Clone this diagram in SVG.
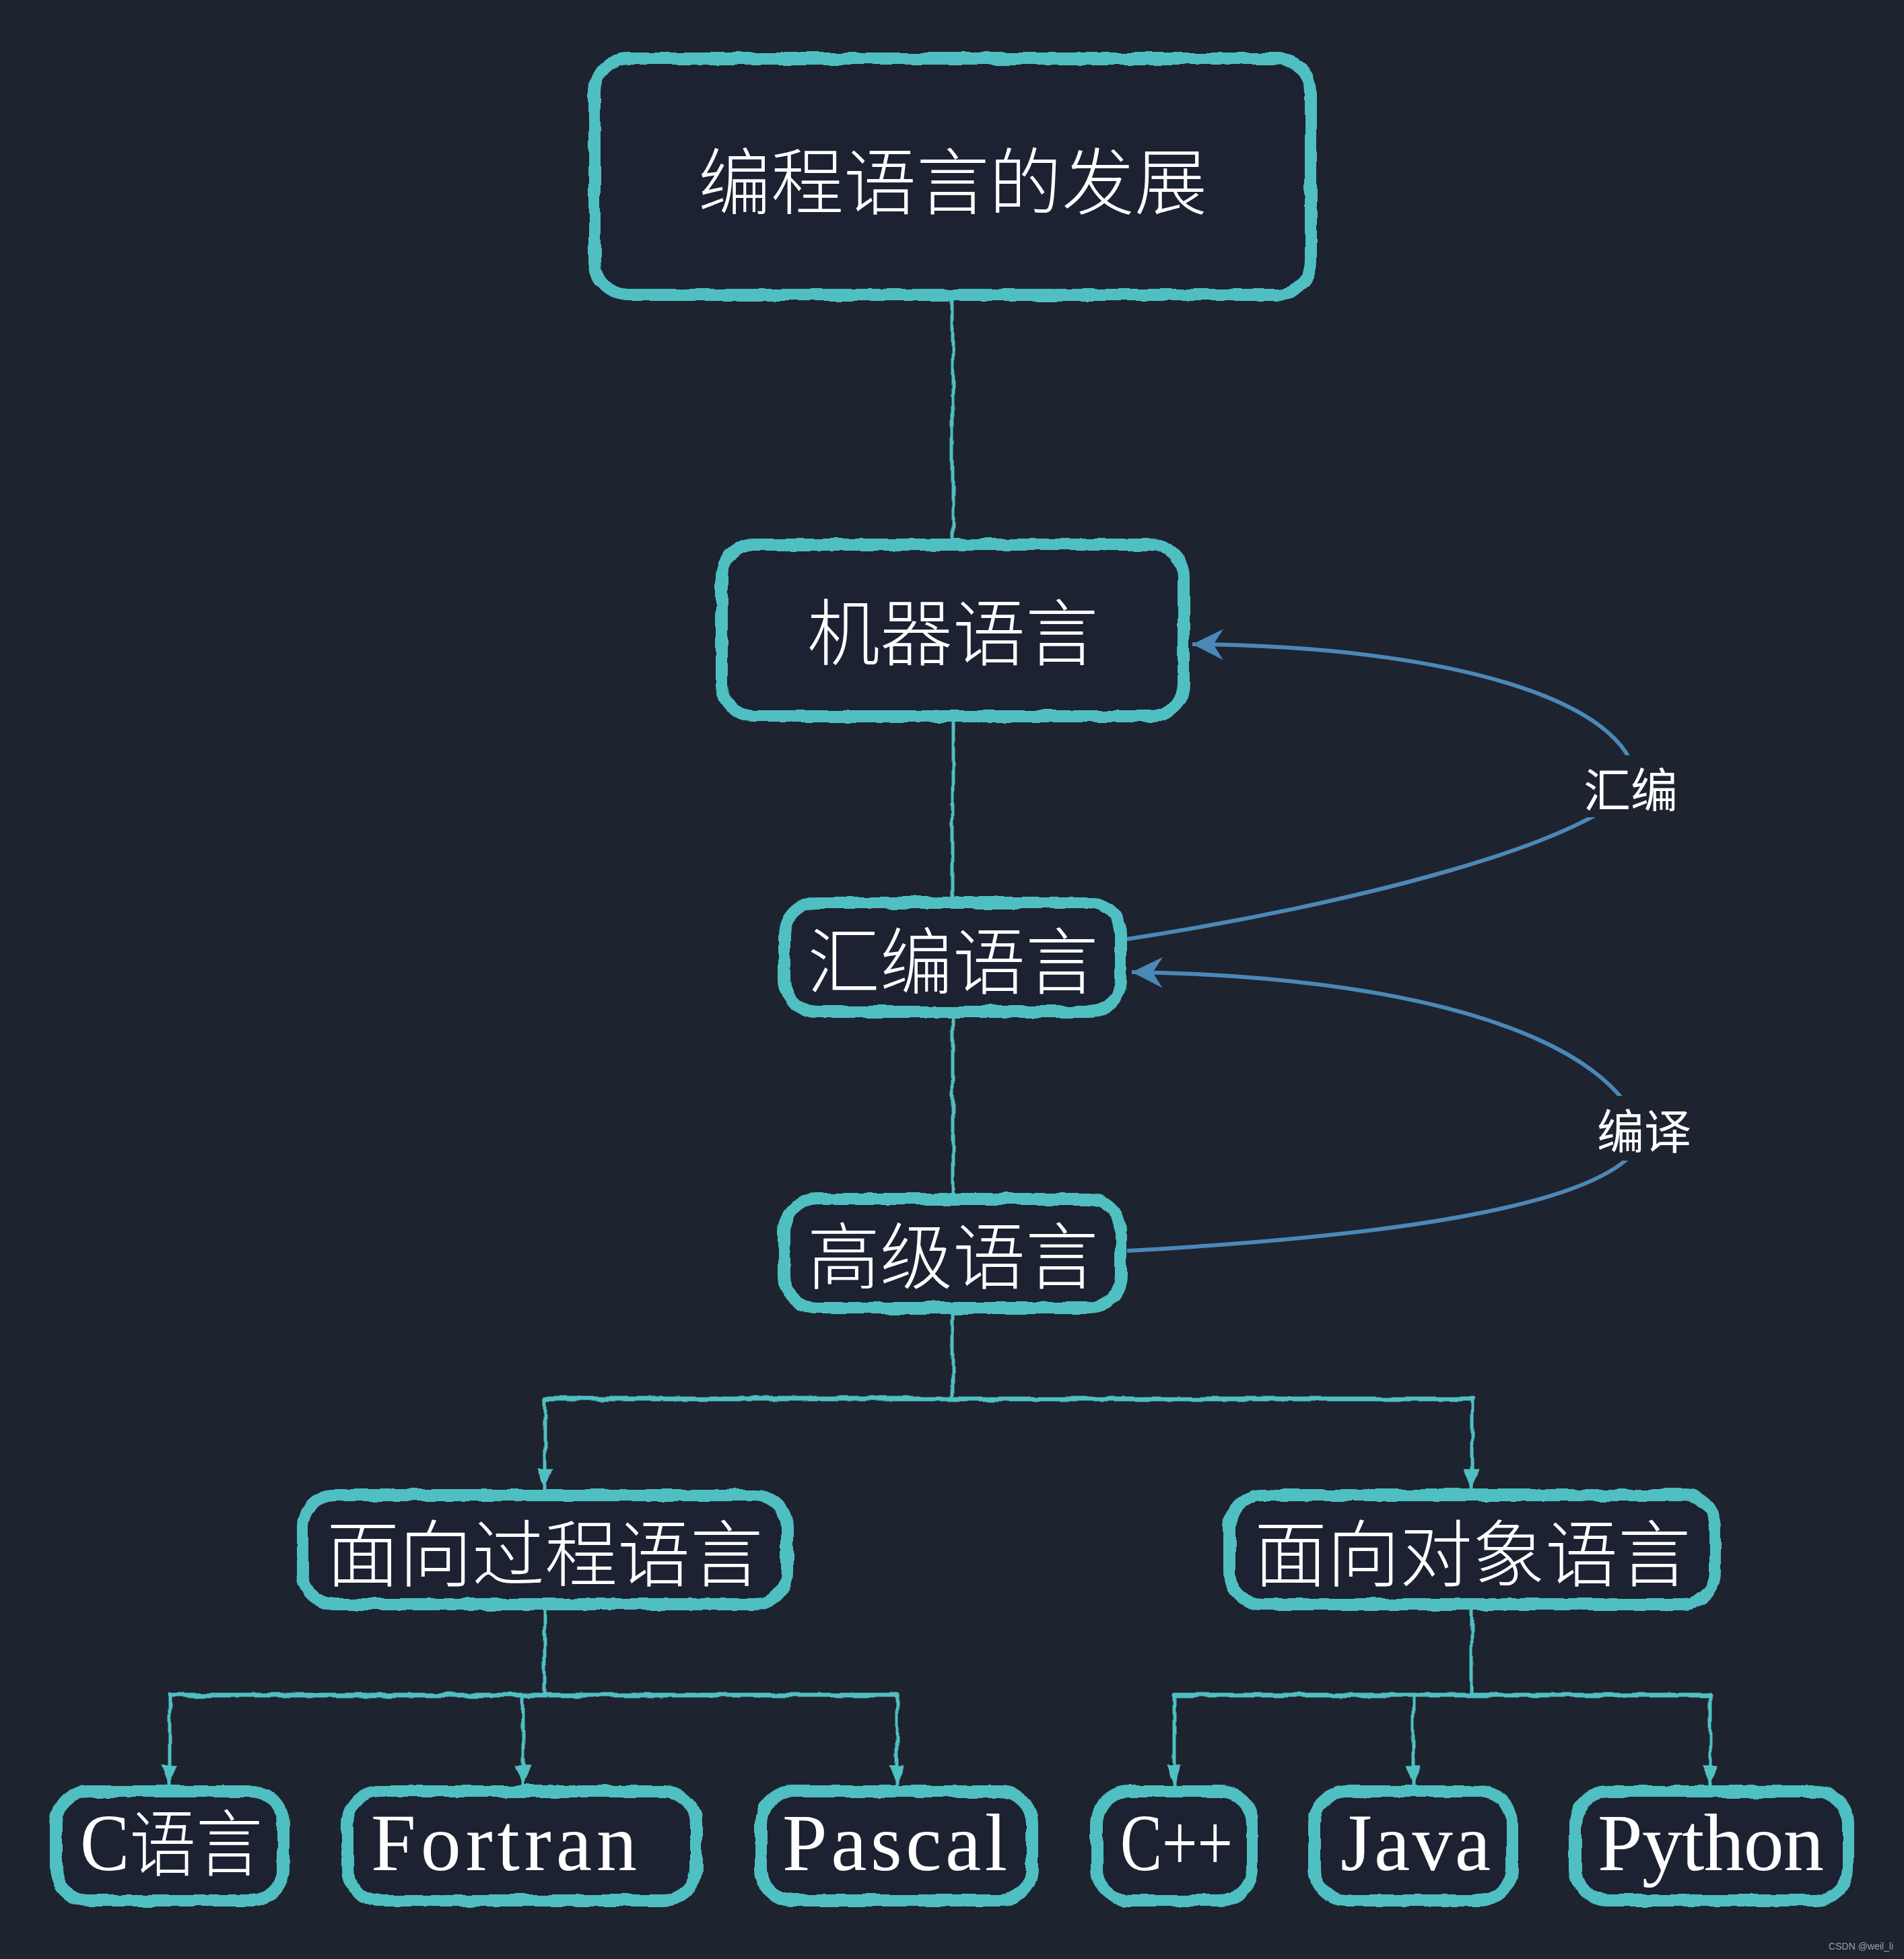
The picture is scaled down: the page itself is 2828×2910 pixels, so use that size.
<svg xmlns="http://www.w3.org/2000/svg" width="2828" height="2910" viewBox="0 0 2828 2910">
<defs>
<style>
.box{fill:#1e2330;stroke:#4fbfc1;stroke-width:18}
.t{fill:#ffffff;font-family:"Noto Sans CJK SC",sans-serif;font-size:108px;font-weight:300}
.lat{fill:#ffffff;font-family:"Liberation Serif",serif;font-size:120px}
.ln{fill:none;stroke:#4fbfc1;stroke-width:5;stroke-linecap:round}
.bar{fill:none;stroke:#4fbfc1;stroke-width:7;stroke-linecap:round}
.bl{fill:none;stroke:#4b88b8;stroke-width:6}
.lab{fill:#ffffff;font-family:"Noto Sans CJK SC",sans-serif;font-size:70px;font-weight:400}
</style>
<filter id="rough" filterUnits="userSpaceOnUse" x="0" y="0" width="2828" height="2910">
<feTurbulence type="fractalNoise" baseFrequency="0.035" numOctaves="2" seed="4"/>
<feDisplacementMap in="SourceGraphic" scale="7" xChannelSelector="R" yChannelSelector="G"/>
</filter>
<marker id="ah" markerUnits="userSpaceOnUse" markerWidth="34" markerHeight="34" viewBox="-30 -14 32 28" refX="0" refY="0" orient="auto">
<path d="M0,0 L-28,-11 L-28,11 Z" fill="#4fbfc1"/>
</marker>
<marker id="bh" markerUnits="userSpaceOnUse" markerWidth="50" markerHeight="50" viewBox="-46 -24 48 48" refX="0" refY="0" orient="auto">
<path d="M0,0 L-44,-22 L-30,0 L-44,22 Z" fill="#4b88b8"/>
</marker>
</defs>
<rect x="0" y="0" width="2828" height="2910" fill="#1e2330"/>

<g id="connectors">
<g filter="url(#rough)">
<path class="ln" d="M1415,447 L1415,800"/>
<path class="ln" d="M1415,1073 L1415,1332"/>
<path class="ln" d="M1415,1512 L1415,1772"/>
<path class="ln" d="M1415,1952 L1415,2078"/>
<path class="bar" d="M809,2078 L2186,2078"/>
<path class="ln" d="M809,2078 L809,2212" marker-end="url(#ah)"/>
<path class="ln" d="M2186,2078 L2186,2212" marker-end="url(#ah)"/>
<path class="ln" d="M809,2392 L809,2518"/>
<path class="bar" d="M252,2518 L1332,2518"/>
<path class="ln" d="M252,2518 L252,2652" marker-end="url(#ah)"/>
<path class="ln" d="M777,2518 L777,2652" marker-end="url(#ah)"/>
<path class="ln" d="M1332,2518 L1332,2652" marker-end="url(#ah)"/>
<path class="ln" d="M2186,2392 L2186,2518"/>
<path class="bar" d="M1744,2518 L2540,2518"/>
<path class="ln" d="M1744,2518 L1744,2652" marker-end="url(#ah)"/>
<path class="ln" d="M2099,2518 L2099,2652" marker-end="url(#ah)"/>
<path class="ln" d="M2540,2518 L2540,2652" marker-end="url(#ah)"/>
</g>
<path class="bl" d="M1674,1395 C2000,1345 2380,1250 2430,1160 C2420,1040 2150,960 1771,957" marker-end="url(#bh)"/>
<path class="bl" d="M1674,1858 C2000,1840 2400,1800 2440,1690 C2400,1540 2100,1450 1681,1444" marker-end="url(#bh)"/>
<rect x="2345" y="1122" width="155" height="92" fill="#1e2330"/>
<text class="lab" x="2422" y="1169" text-anchor="middle" dominant-baseline="central">汇编</text>
<rect x="2362" y="1628" width="160" height="96" fill="#1e2330"/>
<text class="lab" x="2442" y="1676" text-anchor="middle" dominant-baseline="central">编译</text>
</g>

<g id="n-top">
<rect class="box" x="883" y="87" width="1064" height="351" rx="50" filter="url(#rough)"/>
<text class="t" x="1415" y="263" text-anchor="middle" dominant-baseline="central">编程语言的发展</text>
</g>
<g id="n-machine">
<rect class="box" x="1072" y="809" width="686" height="255" rx="48" filter="url(#rough)"/>
<text class="t" x="1415" y="933" text-anchor="middle" dominant-baseline="central">机器语言</text>
</g>
<g id="n-asm">
<rect class="box" x="1165" y="1341" width="500" height="162" rx="48" filter="url(#rough)"/>
<text class="t" x="1415" y="1421" text-anchor="middle" dominant-baseline="central">汇编语言</text>
</g>
<g id="n-high">
<rect class="box" x="1165" y="1781" width="500" height="162" rx="48" filter="url(#rough)"/>
<text class="t" x="1415" y="1859" text-anchor="middle" dominant-baseline="central">高级语言</text>
</g>
<g id="n-proc">
<rect class="box" x="449" y="2221" width="720" height="162" rx="48" filter="url(#rough)"/>
<text class="t" x="809" y="2301" text-anchor="middle" dominant-baseline="central">面向过程语言</text>
</g>
<g id="n-oop">
<rect class="box" x="1826" y="2221" width="722" height="162" rx="48" filter="url(#rough)"/>
<text class="t" x="2187" y="2301" text-anchor="middle" dominant-baseline="central">面向对象语言</text>
</g>
<g id="n-c">
<rect class="box" x="83" y="2661" width="338" height="162" rx="48" filter="url(#rough)"/>
<text class="lat" x="119" y="2778" textLength="271" lengthAdjust="spacingAndGlyphs">C<tspan font-family="Noto Sans CJK SC, sans-serif" font-size="108" font-weight="300">语言</tspan></text>
</g>
<g id="n-fortran">
<rect class="box" x="516" y="2661" width="518" height="162" rx="48" filter="url(#rough)"/>
<text class="lat" x="551" y="2778" textLength="395" lengthAdjust="spacing">Fortran</text>
</g>
<g id="n-pascal">
<rect class="box" x="1130" y="2661" width="403" height="162" rx="48" filter="url(#rough)"/>
<text class="lat" x="1162" y="2778" textLength="334" lengthAdjust="spacing">Pascal</text>
</g>
<g id="n-cpp">
<rect class="box" x="1629" y="2661" width="231" height="162" rx="48" filter="url(#rough)"/>
<text class="lat" x="1664" y="2778" textLength="167" lengthAdjust="spacingAndGlyphs">C++</text>
</g>
<g id="n-java">
<rect class="box" x="1952" y="2661" width="294" height="162" rx="48" filter="url(#rough)"/>
<text class="lat" x="1991" y="2778" textLength="223" lengthAdjust="spacing">Java</text>
</g>
<g id="n-python">
<rect class="box" x="2340" y="2661" width="405" height="162" rx="48" filter="url(#rough)"/>
<text class="lat" x="2373" y="2778" textLength="336" lengthAdjust="spacing">Python</text>
</g>
<text x="2812" y="2896" text-anchor="end" font-family="Liberation Sans, sans-serif" font-size="14" fill="#9a9ea6">CSDN @weil_li</text>
</svg>
